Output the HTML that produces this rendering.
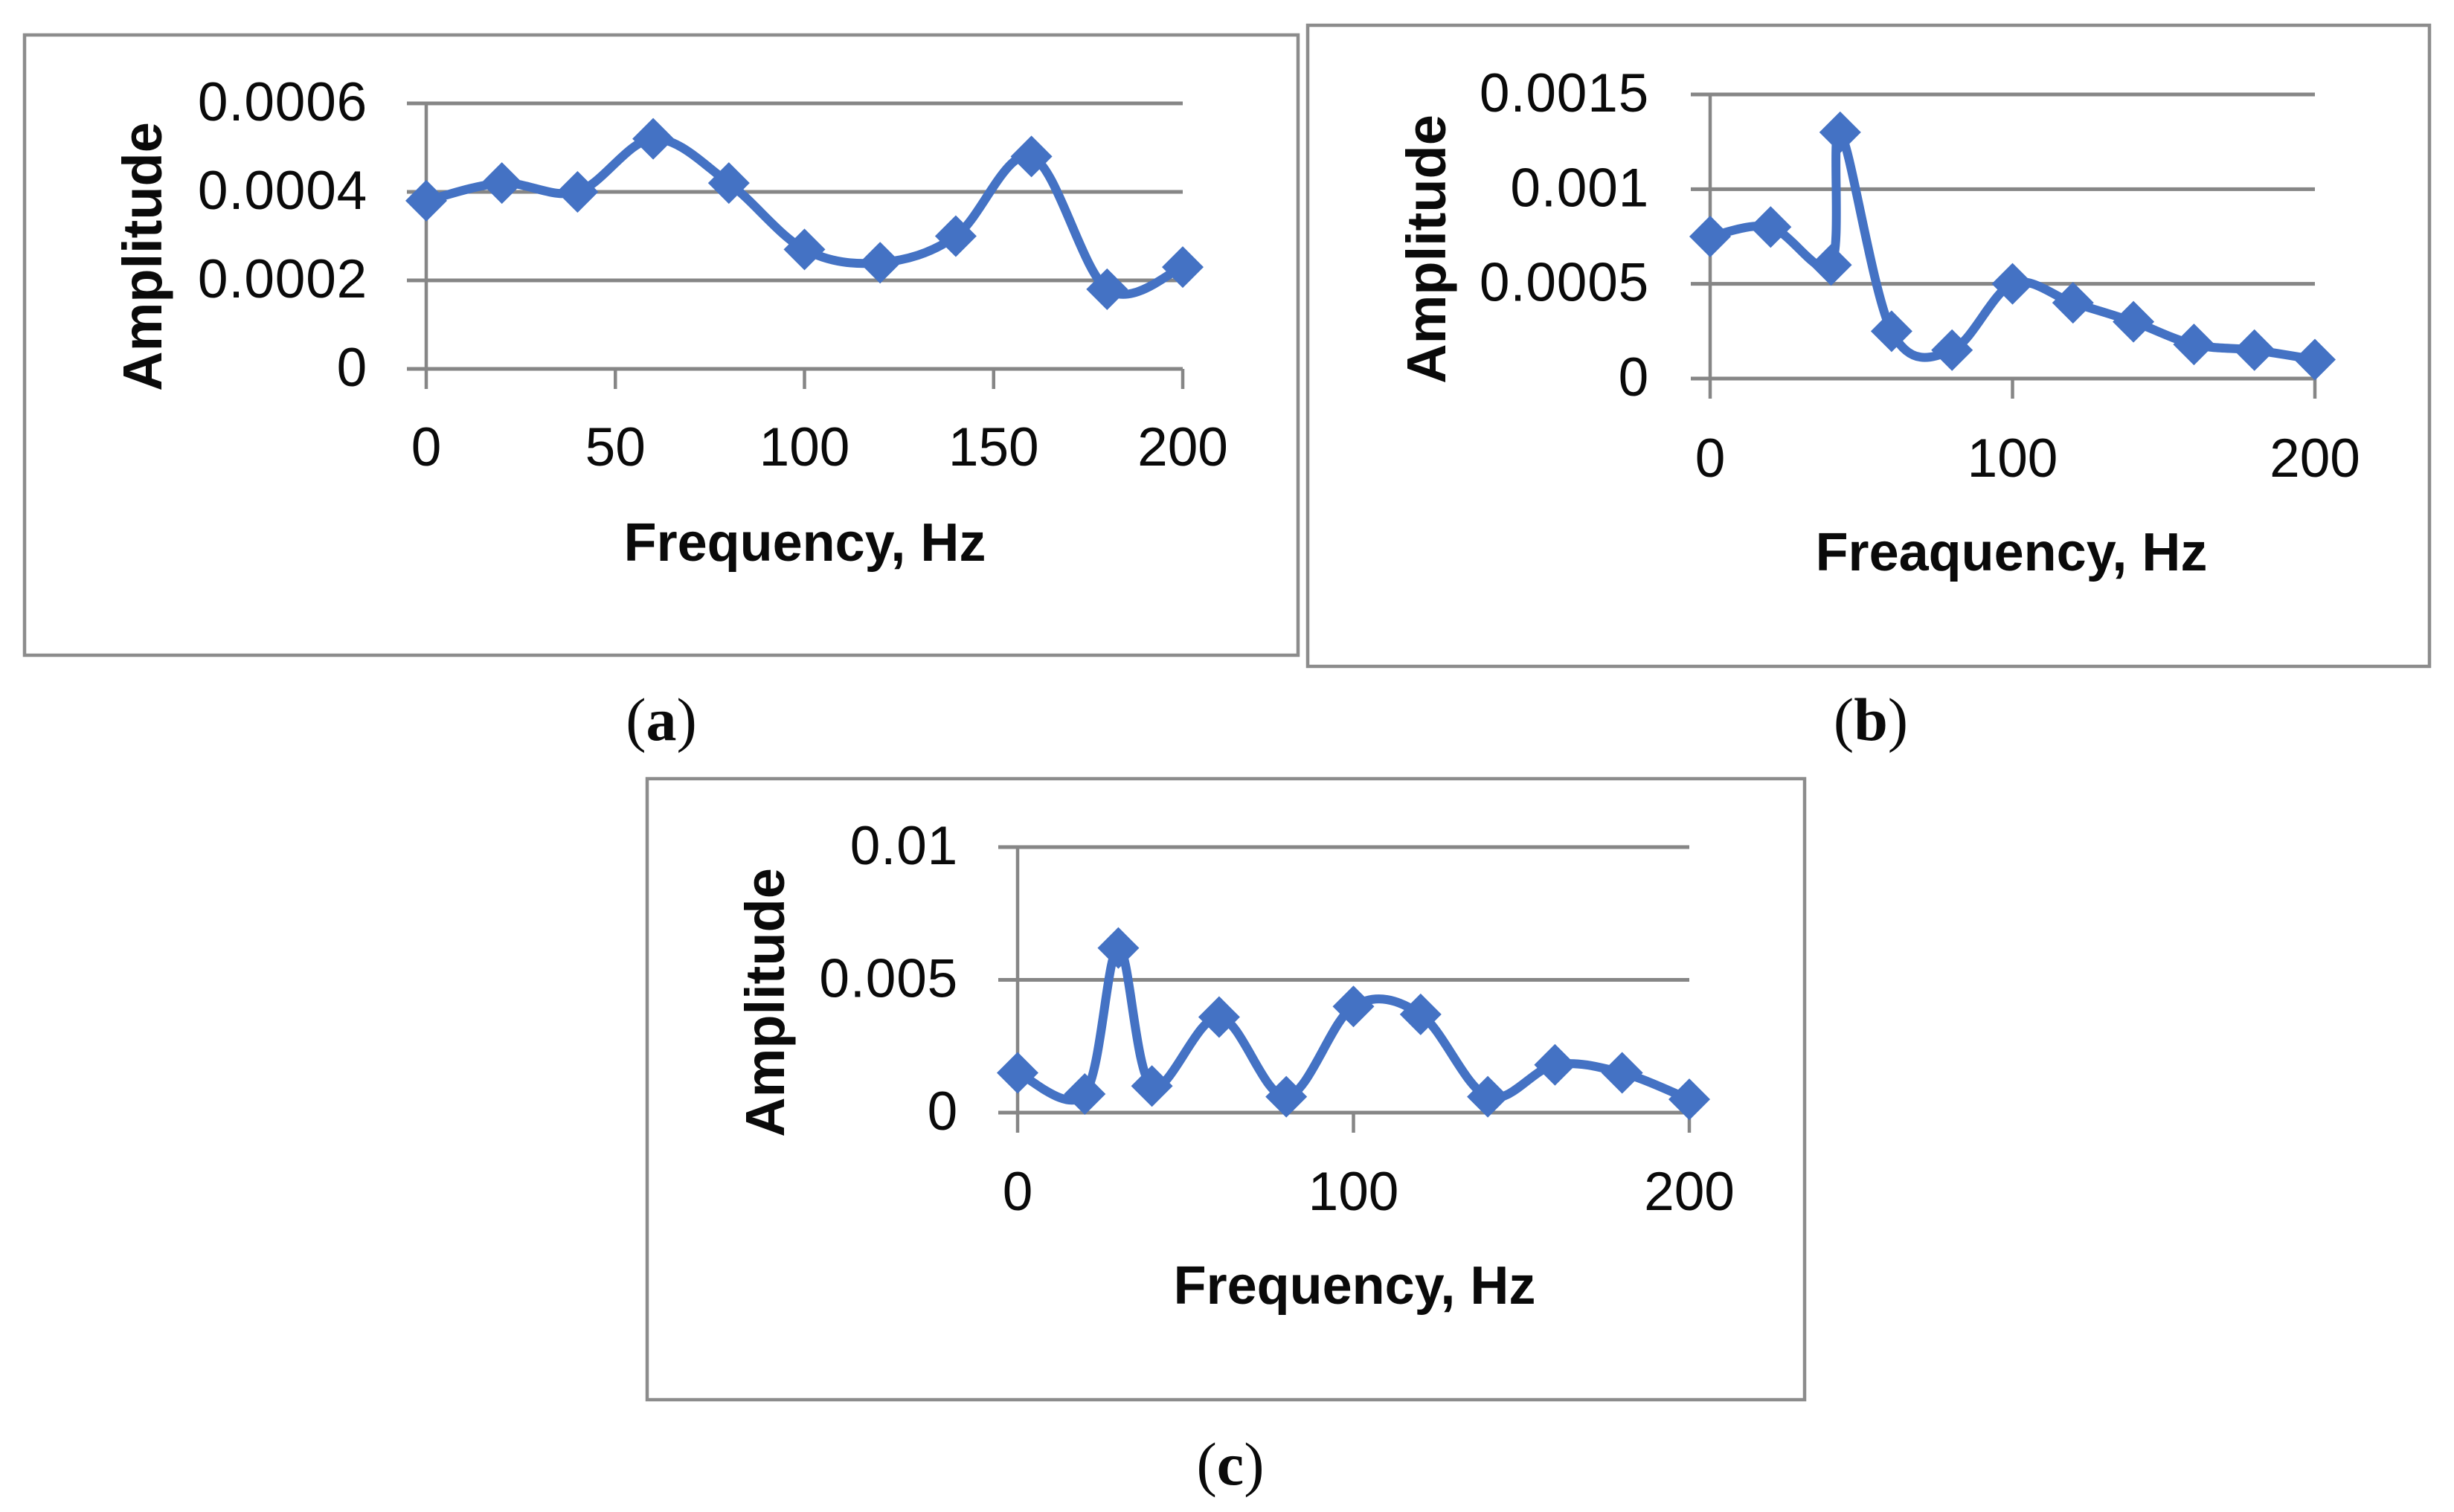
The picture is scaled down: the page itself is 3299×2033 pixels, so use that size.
<!DOCTYPE html>
<html lang="en">
<head>
<meta charset="utf-8">
<title>Frequency amplitude spectra (a), (b), (c)</title>
<style>
html,body{margin:0;padding:0;background:#fff;width:3299px;height:2033px;overflow:hidden}
svg{display:block}
.tick{font-family:"Liberation Sans",sans-serif;font-size:73px;fill:#0a0a0a}
.title{font-family:"Liberation Sans",sans-serif;font-size:72px;font-weight:bold;fill:#0a0a0a}
.ytitle{font-family:"Liberation Sans",sans-serif;font-size:74px;font-weight:bold;fill:#0a0a0a}
.cap{font-family:"Liberation Serif",serif;font-size:82px;fill:#0a0a0a}
.frame{fill:#fff;stroke:#8c8c8c;stroke-width:4.5}
</style>
</head>
<body>
<svg id="figure" xmlns="http://www.w3.org/2000/svg" width="3299" height="2033" viewBox="0 0 3299 2033">
  <rect width="3299" height="2033" fill="#fff"/>

  <g id="panel-a">
    <rect class="frame" x="33" y="47" width="1712" height="834"/>
    <text class="ytitle" transform="translate(217,345) rotate(-90)" text-anchor="middle">Amplitude</text>
    <text class="title" x="1082" y="754" text-anchor="middle">Frequency, Hz</text>
  </g>
  <text class="cap" x="889" y="995" text-anchor="middle">(<tspan font-weight="bold">a</tspan>)</text>

  <g id="panel-b">
    <rect class="frame" x="1758" y="34" width="1508" height="862"/>
    <text class="ytitle" transform="translate(1943,335) rotate(-90)" text-anchor="middle">Amplitude</text>
    <text class="title" x="2704" y="767" text-anchor="middle">Freaquency, Hz</text>
  </g>
  <text class="cap" x="2515" y="995" text-anchor="middle">(<tspan font-weight="bold">b</tspan>)</text>

  <g id="panel-c">
    <rect class="frame" x="870" y="1047" width="1556" height="835"/>
    <text class="ytitle" transform="translate(1054,1348) rotate(-90)" text-anchor="middle">Amplitude</text>
    <text class="title" x="1821" y="1753" text-anchor="middle">Frequency, Hz</text>
  </g>
  <text class="cap" x="1654" y="1996" text-anchor="middle">(<tspan font-weight="bold">c</tspan>)</text>
</svg>

<script>
// Chart (a) data
const freqA = [0, 20, 40, 60, 80, 100, 120, 140, 160, 180, 200];
const ampA = [0.00038, 0.00042, 0.0004, 0.00052, 0.00042, 0.00027, 0.00024, 0.0003, 0.00048, 0.00018, 0.00023];
const xTicksA = [0, 50, 100, 150, 200];
const yTicksA = ["0", "0.0002", "0.0004", "0.0006"];

// Chart (b) data
const freqB = [0, 20, 40, 43, 60, 80, 100, 120, 140, 160, 180, 200];
const ampB = [0.00075, 0.0008, 0.0006, 0.0013, 0.00025, 0.00015, 0.0005, 0.0004, 0.0003, 0.00018, 0.00015, 0.0001];
const xTicksB = [0, 100, 200];
const yTicksB = ["0", "0.0005", "0.001", "0.0015"];

// Chart (c) data
const freqC = [0, 20, 30, 40, 60, 80, 100, 120, 140, 160, 180, 200];
const ampC = [0.0015, 0.0007, 0.0062, 0.001, 0.0036, 0.0006, 0.004, 0.0037, 0.0006, 0.0018, 0.0015, 0.0005];
const xTicksC = [0, 100, 200];
const yTicksC = ["0", "0.005", "0.01"];

const NS = "http://www.w3.org/2000/svg";

function make(parent, tag, attrs) {
  const el = document.createElementNS(NS, tag);
  for (const k in attrs) el.setAttribute(k, attrs[k]);
  parent.appendChild(el);
  return el;
}

function smoothPath(pts) {
  let d = "M" + pts[0][0] + " " + pts[0][1];
  for (let i = 0; i < pts.length - 1; i++) {
    const p0 = pts[Math.max(i - 1, 0)];
    const p1 = pts[i];
    const p2 = pts[i + 1];
    const p3 = pts[Math.min(i + 2, pts.length - 1)];
    const c1x = p1[0] + (p2[0] - p0[0]) / 6;
    const c1y = p1[1] + (p2[1] - p0[1]) / 6;
    const c2x = p2[0] - (p3[0] - p1[0]) / 6;
    const c2y = p2[1] - (p3[1] - p1[1]) / 6;
    d += "C" + c1x + " " + c1y + " " + c2x + " " + c2y + " " + p2[0] + " " + p2[1];
  }
  return d;
}

function drawChart(id, cfg, freq, amp, xTicks, yTicks) {
  const root = document.getElementById("panel-" + id);
  const xScale = v => cfg.x0 + (v - cfg.xMin) / (cfg.xMax - cfg.xMin) * (cfg.x1 - cfg.x0);
  const yMax = parseFloat(yTicks[yTicks.length - 1]);
  const yScale = v => cfg.y0 + v / yMax * (cfg.y1 - cfg.y0);
  const axisColor = "#868686";

  yTicks.forEach(t => {
    const y = yScale(parseFloat(t));
    const grid = make(root, "line", {x1: cfg.x0 - 26, x2: cfg.x1, y1: y, y2: y, stroke: axisColor, "stroke-width": 5});
    
    
    const label = make(root, "text", {class: "tick", x: cfg.yLabelX, y: y + 23, "text-anchor": "end", "letter-spacing": "0.8"});
    
    
    label.textContent = t;
  });

  const yAxis = make(root, "line", {x1: cfg.x0, x2: cfg.x0, y1: cfg.y1, y2: cfg.y0, stroke: axisColor, "stroke-width": 4.5});
  
  

  xTicks.forEach(t => {
    const x = xScale(t);
    const tick = make(root, "line", {x1: x, x2: x, y1: cfg.y0, y2: cfg.y0 + 27, stroke: axisColor, "stroke-width": 4.5});
    
    
    const label = make(root, "text", {class: "tick", x: x, y: cfg.xLabelY, "text-anchor": "middle"});
    
    
    label.textContent = t;
  });

  const pts = freq.map((f, i) => [xScale(f), yScale(amp[i])]);
  const line = make(root, "path", {d: smoothPath(pts), fill: "none", stroke: "#4472c4", "stroke-width": 12, "stroke-linejoin": "round", "stroke-linecap": "round"});
  
  

  pts.forEach(p => {
    const r = 28;
    const marker = make(root, "polygon", {points: (p[0] - r) + "," + p[1] + " " + p[0] + "," + (p[1] - r) + " " + (p[0] + r) + "," + p[1] + " " + p[0] + "," + (p[1] + r), fill: "#4472c4"});
    
    
  });
}

drawChart("a", {x0: 573, x1: 1590, xMin: 0, xMax: 200, y0: 496, y1: 139, yLabelX: 494, xLabelY: 626}, freqA, ampA, xTicksA, yTicksA);
drawChart("b", {x0: 2299, x1: 3112, xMin: 0, xMax: 200, y0: 509, y1: 127, yLabelX: 2217, xLabelY: 641}, freqB, ampB, xTicksB, yTicksB);
drawChart("c", {x0: 1368, x1: 2271, xMin: 0, xMax: 200, y0: 1496, y1: 1139, yLabelX: 1288, xLabelY: 1627}, freqC, ampC, xTicksC, yTicksC);
</script>
</body>
</html>
